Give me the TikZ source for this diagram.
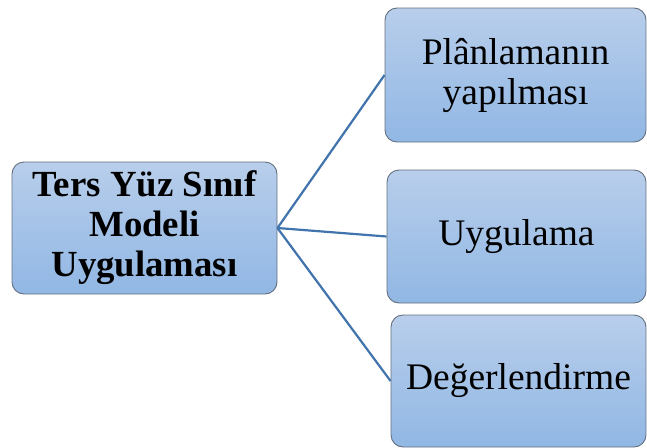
\documentclass[tikz,border=0pt]{standalone}
\usepackage{fontspec}
\setmainfont{Liberation Serif}
\definecolor{boxtop}{RGB}{184,206,235}
\definecolor{boxbot}{RGB}{145,183,228}
\definecolor{boxline}{RGB}{100,112,128}
\definecolor{linkblue}{RGB}{65,115,172}
\begin{document}
\begin{tikzpicture}[x=1pt,y=-1pt,
  box/.style={draw=boxline,line width=0.9pt,rounded corners=12pt,top color=boxtop,bottom color=boxbot,
    align=center,inner sep=0pt,font=\fontsize{37.5}{40}\selectfont},
  link/.style={draw=linkblue,line width=2.2pt}]
\useasboundingbox (0,0) rectangle (647,447);
\node[box,minimum width=265pt,minimum height=132pt,font=\fontsize{36.8}{40}\selectfont\bfseries] (model) at (144.5,228) {Ters Yüz Sınıf\\Modeli\\Uygulaması};
\node[box,minimum width=261pt,minimum height=134pt] (plan) at (515.5,75) {Plânlamanın\\yapılması};
\node[box,minimum width=259pt,minimum height=133pt] (uyg) at (516.5,236.5) {Uygulama};
\node[box,minimum width=255pt,minimum height=132pt] (deg) at (518.5,381) {Değerlendirme};
\draw[link] (model.east) -- (plan.west);
\draw[link] (model.east) -- (uyg.west);
\draw[link] (model.east) -- (deg.west);
\end{tikzpicture}
\end{document}
